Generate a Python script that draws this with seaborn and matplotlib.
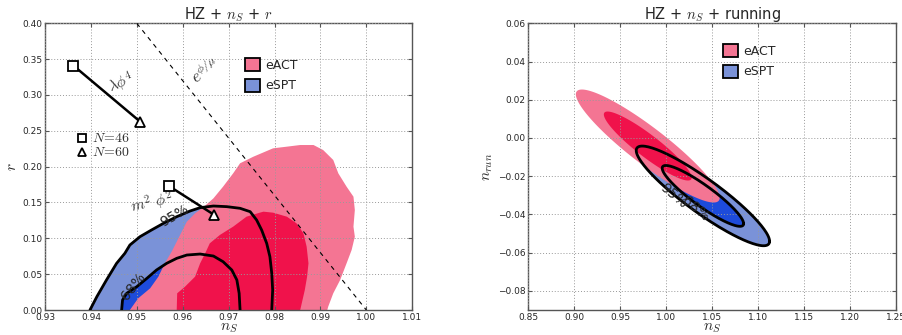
import numpy as np
import pandas as pd
import matplotlib
matplotlib.use("Agg")
import matplotlib.pyplot as plt
import seaborn as sns
from matplotlib.patches import Patch

# ---------------- data ----------------
# left panel: HZ + n_S + r, contour boundaries (n_S, r)
act95_ns = [0.9485, 0.9503, 0.9529, 0.9547, 0.9561, 0.9576, 0.9587, 0.9598, 0.9609, 0.9627,
            0.9645, 0.9667, 0.9688, 0.9710, 0.9725, 0.9754, 0.9797, 0.9827, 0.9856, 0.9885,
            0.9906, 0.9928, 0.9939, 0.9957, 0.9972, 0.9975, 0.9972, 0.9975, 0.9968, 0.9957,
            0.9943, 0.9928, 0.9917, 0.9915]
act95_r = [0.0, 0.0163, 0.0302, 0.0465, 0.0651, 0.0814, 0.0953, 0.1093, 0.1232, 0.1349,
           0.1433, 0.1558, 0.1721, 0.1907, 0.2047, 0.2139, 0.2256, 0.2279, 0.2302, 0.2302,
           0.2232, 0.2093, 0.1907, 0.1721, 0.1581, 0.1395, 0.1163, 0.1023, 0.0837, 0.0651,
           0.0419, 0.0233, 0.0047, 0.0]

act68_ns = [0.9587, 0.9588, 0.9605, 0.9627, 0.9638, 0.9649, 0.9659, 0.9681, 0.9710, 0.9739,
            0.9768, 0.9776, 0.9797, 0.9827, 0.9848, 0.9863, 0.9870, 0.9874, 0.9871, 0.9866,
            0.9856]
act68_r = [0.0, 0.0233, 0.0325, 0.0465, 0.0651, 0.0791, 0.0930, 0.1047, 0.1163, 0.1302,
           0.1358, 0.1372, 0.1358, 0.1302, 0.1209, 0.1070, 0.0884, 0.0651, 0.0465, 0.0279,
           0.0]

spt95_ns = [0.9398, 0.9413, 0.9434, 0.9456, 0.9474, 0.9485, 0.9507, 0.9532, 0.9558, 0.9587,
            0.9616, 0.9638, 0.9667, 0.9696, 0.9725, 0.9747, 0.9761, 0.9772, 0.9783, 0.9790,
            0.9794, 0.9796, 0.9794]
spt95_r = [0.0, 0.0186, 0.0419, 0.0651, 0.0791, 0.0907, 0.1023, 0.1116, 0.1209, 0.1302,
           0.1381, 0.1428, 0.1451, 0.1442, 0.1419, 0.1372, 0.1256, 0.1116, 0.0930, 0.0744,
           0.0512, 0.0279, 0.0]

spt68_ns = [0.9467, 0.9469, 0.9478, 0.9500, 0.9522, 0.9543, 0.9565, 0.9587, 0.9609, 0.9638,
            0.9667, 0.9688, 0.9707, 0.9718, 0.9723, 0.9725]
spt68_r = [0.0, 0.0140, 0.0233, 0.0325, 0.0442, 0.0558, 0.0651, 0.0721, 0.0767, 0.0781,
           0.0753, 0.0674, 0.0558, 0.0419, 0.0233, 0.0]

# inflation model predictions (N=46, N=60)
lphi4_ns = [0.9362, 0.9507]
lphi4_r = [0.341, 0.263]
m2phi2_ns = [0.9570, 0.9669]
m2phi2_r = [0.173, 0.1326]
# exponential potential line
exp_ns = [0.95, 1.00]
exp_r = [0.40, 0.0]

# right panel: HZ + n_S + running, gaussian fits (n_S, n_run)
act_mean = [0.980, -0.0042]
act_sigma = [0.0315, 0.0119]
act_rho = -0.915
spt_mean = [1.040, -0.0303]
spt_sigma = [0.0292, 0.0105]
spt_rho = -0.91
chi2_levels = {"68%": 2.30, "95%": 6.17}

# ---------------- style ----------------
sns.set_style("ticks")
plt.rcParams["font.family"] = ["DejaVu Sans"]
plt.rcParams["mathtext.fontset"] = "cm"

ACT_LIGHT = "#f47593"
ACT_DARK = "#f0124b"
SPT_LIGHT = "#7a92d8"
SPT_DARK = "#1d4bdb"
TXT = "#333333"


def ellipse(mean, sigma, rho, chi2):
    cov = np.array([[sigma[0] ** 2, rho * sigma[0] * sigma[1]],
                    [rho * sigma[0] * sigma[1], sigma[1] ** 2]])
    L = np.linalg.cholesky(cov)
    t = np.linspace(0, 2 * np.pi, 200)
    pts = (L @ np.vstack([np.cos(t), np.sin(t)])) * np.sqrt(chi2)
    return mean[0] + pts[0], mean[1] + pts[1]


def style_axes(ax):
    ax.grid(True, ls=(0, (1, 2)), color="#999999", lw=0.7)
    ax.set_axisbelow(False)
    for s in ax.spines.values():
        s.set_color("#555555")
        s.set_linewidth(1.0)
    ax.tick_params(direction="in", length=3, labelsize=6.5, top=True, right=True,
                   color="#555555", pad=2)


def add_legend(ax, x, y):
    handles = [Patch(facecolor=ACT_LIGHT, edgecolor="k", lw=1.3, label="eACT"),
               Patch(facecolor=SPT_LIGHT, edgecolor="k", lw=1.3, label="eSPT")]
    ax.legend(handles=handles, loc="upper left", bbox_to_anchor=(x, y), frameon=False,
              fontsize=9, handlelength=1.2, handleheight=1.2, handletextpad=0.4,
              labelspacing=0.55, borderpad=0, borderaxespad=0)


fig = plt.figure(figsize=(9.03, 3.35), dpi=100)
ax1 = fig.add_axes([0.0498, 0.0746, 0.4067, 0.8558])
ax2 = fig.add_axes([0.585, 0.0746, 0.4072, 0.8558])

# ---------------- left panel ----------------
ax1.fill(spt95_ns, spt95_r, color=SPT_LIGHT, lw=0, zorder=1)
ax1.fill(spt68_ns, spt68_r, color=SPT_DARK, lw=0, zorder=1)
ax1.fill(act95_ns, act95_r, color=ACT_LIGHT, lw=0, zorder=2)
ax1.fill(act68_ns, act68_r, color=ACT_DARK, lw=0, zorder=2)
ax1.plot(spt95_ns, spt95_r, color="k", lw=2, zorder=4)
ax1.plot(spt68_ns, spt68_r, color="k", lw=2, zorder=4)
ax1.text(0.9583, 0.131, "95%", rotation=30, fontsize=10, ha="center", va="center", zorder=5)
ax1.text(0.9492, 0.033, "68%", rotation=52, fontsize=10, ha="center", va="center", zorder=5)

sns.lineplot(x=exp_ns, y=exp_r, ax=ax1, color="k", lw=0.8, ls=(0, (4, 4)), zorder=3)
sns.lineplot(x=lphi4_ns, y=lphi4_r, ax=ax1, color="k", lw=1.8, sort=False, zorder=5)
sns.lineplot(x=m2phi2_ns, y=m2phi2_r, ax=ax1, color="k", lw=1.8, sort=False, zorder=5)
for ns_vals, r_vals in [(lphi4_ns, lphi4_r), (m2phi2_ns, m2phi2_r)]:
    ax1.plot(ns_vals[0], r_vals[0], marker="s", ms=6.5, mfc="white", mec="k", mew=1.3, zorder=6)
    ax1.plot(ns_vals[1], r_vals[1], marker="^", ms=6.5, mfc="white", mec="k", mew=1.3, zorder=6)

# N legend
ax1.plot(0.938, 0.2404, marker="s", ms=6, mfc="white", mec="k", mew=1.3, clip_on=False)
ax1.plot(0.938, 0.2204, marker="^", ms=6, mfc="white", mec="k", mew=1.3, clip_on=False)
ax1.text(0.9402, 0.2404, r"$N\!=\!46$", fontsize=10, color=TXT, va="center")
ax1.text(0.9402, 0.2204, r"$N\!=\!60$", fontsize=10, color=TXT, va="center")

ax1.text(0.9467, 0.317, r"$\lambda\phi^4$", fontsize=11, color=TXT, rotation=22,
         ha="center", va="center")
ax1.text(0.9532, 0.149, r"$m^2\ \phi^2$", fontsize=11, color=TXT, rotation=12,
         ha="center", va="center")
ax1.text(0.9649, 0.333, r"$e^{\phi/\mu}$", fontsize=12, color=TXT, rotation=33,
         ha="center", va="center")

ax1.set_xlim(0.93, 1.01)
ax1.set_ylim(0.0, 0.40)
ax1.set_xticks(np.arange(0.93, 1.0101, 0.01))
ax1.set_yticks(np.arange(0.0, 0.4001, 0.05))
ax1.xaxis.set_major_formatter(matplotlib.ticker.FormatStrFormatter("%.2f"))
ax1.yaxis.set_major_formatter(matplotlib.ticker.FormatStrFormatter("%.2f"))
style_axes(ax1)
ax1.set_xlabel(r"$n_S$", fontsize=11, labelpad=-1)
ax1.set_ylabel(r"$r$", fontsize=11, labelpad=2)
ax1.set_title(r"HZ + $n_S$ + $r$", fontsize=10.5, pad=3)
add_legend(ax1, 0.5445, 0.878)

# ---------------- right panel ----------------
for mean, sigma, rho, light, dark in [(spt_mean, spt_sigma, spt_rho, SPT_LIGHT, SPT_DARK),
                                      (act_mean, act_sigma, act_rho, ACT_LIGHT, ACT_DARK)]:
    z = 1 if light == SPT_LIGHT else 2
    ex, ey = ellipse(mean, sigma, rho, chi2_levels["95%"])
    ax2.fill(ex, ey, color=light, lw=0, zorder=z)
    ex, ey = ellipse(mean, sigma, rho, chi2_levels["68%"])
    ax2.fill(ex, ey, color=dark, lw=0, zorder=z)

for lev in ["95%", "68%"]:
    ex, ey = ellipse(spt_mean, spt_sigma, spt_rho, chi2_levels[lev])
    ax2.plot(ex, ey, color="k", lw=2, zorder=4)
ax2.text(1.0077, -0.0300, "95%", rotation=-40, fontsize=10, ha="center", va="center", zorder=5)
ax2.text(1.0313, -0.0369, "68%", rotation=-40, fontsize=10, ha="center", va="center", zorder=5)

ax2.set_xlim(0.85, 1.25)
ax2.set_ylim(-0.09, 0.06)
ax2.set_xticks(np.arange(0.85, 1.2501, 0.05))
ax2.set_yticks(np.arange(-0.08, 0.0601, 0.02))
ax2.xaxis.set_major_formatter(matplotlib.ticker.FormatStrFormatter("%.2f"))
ax2.yaxis.set_major_formatter(matplotlib.ticker.FuncFormatter(
    lambda v, p: f"{v:.2f}".replace("-", "\u2212") if abs(v) > 1e-9 else "0.00"))
style_axes(ax2)
ax2.set_xlabel(r"$n_S$", fontsize=11, labelpad=-1)
ax2.set_ylabel(r"$n_{run}$", fontsize=11, labelpad=2)
ax2.set_title(r"HZ + $n_S$ + running", fontsize=10.5, pad=3)
add_legend(ax2, 0.5295, 0.9267)

fig.savefig("out.png", dpi=100)
